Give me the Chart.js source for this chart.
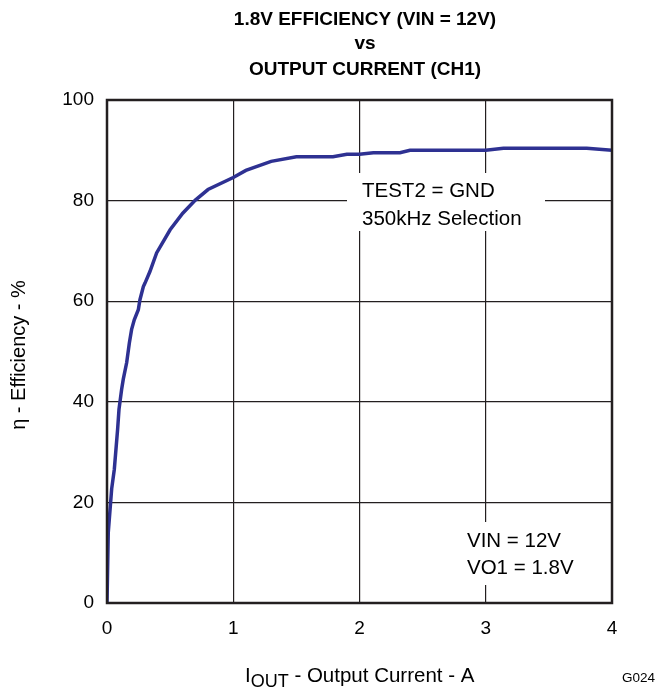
<!DOCTYPE html>
<html>
<head>
<meta charset="utf-8">
<script src="https://cdn.jsdelivr.net/npm/chart.js@4"></script>
<style>
  html, body { margin: 0; padding: 0; background: #fff; }
  #wrap { width: 658px; height: 693px; }
</style>
</head>
<body>
<div id="wrap"><canvas id="myChart" width="658" height="693"></canvas></div>
<script>
// output current (A) and efficiency (%)
var current = [0, 0.01, 0.037, 0.058, 0.084, 0.095, 0.116, 0.129, 0.156, 0.177, 0.195, 0.216, 0.248, 0.261, 0.288, 0.301, 0.34, 0.393, 0.5, 0.6, 0.7, 0.8, 1.0, 1.1, 1.3, 1.5, 1.79, 1.9, 2.0, 2.11, 2.32, 2.4, 3.0, 3.14, 3.8, 4.0];
var efficiency = [0, 14, 22.7, 26.6, 34.5, 38.5, 42.5, 44.5, 47.8, 51.7, 54.4, 56.3, 58.3, 60.3, 62.9, 63.6, 65.9, 69.6, 74.2, 77.5, 80.1, 82.2, 84.6, 86, 87.8, 88.7, 88.7, 89.2, 89.2, 89.5, 89.5, 90, 90, 90.4, 90.4, 90];
var xTicks = [0, 1, 2, 3, 4];
var yTicks = [0, 20, 40, 60, 80, 100];
var titleLines = ["1.8V EFFICIENCY (VIN = 12V)", "vs", "OUTPUT CURRENT (CH1)"];
var noteTop = ["TEST2 = GND", "350kHz Selection"];
var noteBottom = ["VIN = 12V", "VO1 = 1.8V"];

var pts = [];
for (var i = 0; i < current.length; i++) pts.push({ x: current[i], y: efficiency[i] });

var FONT = "'Liberation Sans', Arial, sans-serif";

var textPlugin = {
  id: 'texts',
  afterDraw: function (chart) {
    var c = chart.ctx;
    var xs = chart.scales.x, ys = chart.scales.y;
    c.save();
    // title
    c.fillStyle = '#000';
    c.font = 'bold 19px ' + FONT;
    c.textAlign = 'center';
    c.textBaseline = 'alphabetic';
    c.fillText(titleLines[0], 365, 25);
    c.fillText(titleLines[1], 365, 49);
    c.fillText(titleLines[2], 365, 75);

    // white boxes behind notes
    c.fillStyle = '#fff';
    c.fillRect(347, 173, 198, 58);
    c.fillRect(456, 522, 134, 63);

    c.fillStyle = '#000';
    c.font = '20.5px ' + FONT;
    c.textAlign = 'left';
    c.fillText(noteTop[0], 362, 197);
    c.fillText(noteTop[1], 362, 225);
    c.fillText(noteBottom[0], 467, 547);
    c.fillText(noteBottom[1], 467, 574);

    // x axis title with subscript
    var x0 = 245, yb = 682;
    c.font = '20.5px ' + FONT;
    c.fillText('I', x0, yb);
    var w = c.measureText('I').width;
    c.font = '18px ' + FONT;
    c.fillText('OUT', x0 + w, yb + 5);
    w += c.measureText('OUT').width;
    c.font = '20.5px ' + FONT;
    c.fillText(' - Output Current - A', x0 + w, yb);

    c.font = '13.5px ' + FONT;
    c.fillText('G024', 622, 682);

    // y axis title
    c.translate(25, 355);
    c.rotate(-Math.PI / 2);
    c.textAlign = 'center';
    c.font = '20px ' + FONT;
    c.fillText('\u03B7 - Efficiency - %', 0, 0);
    c.restore();

    // plot border
    c.save();
    c.strokeStyle = '#231f20';
    c.lineWidth = 2.5;
    c.strokeRect(chart.chartArea.left, chart.chartArea.top, chart.chartArea.right - chart.chartArea.left, chart.chartArea.bottom - chart.chartArea.top);
    c.restore();
  }
};

var ctx = document.getElementById('myChart').getContext('2d');
var myChart = new Chart(ctx, {
  type: 'line',
  data: {
    datasets: [{
      data: pts,
      borderColor: '#2e3192',
      borderWidth: 3.5,
      pointRadius: 0,
      tension: 0,
      fill: false
    }]
  },
  options: {
    responsive: false,
    animation: false,
    layout: { padding: { top: 100, right: 46, left: 0, bottom: 0 } },
    plugins: { legend: { display: false }, tooltip: { enabled: false } },
    scales: {
      x: {
        type: 'linear',
        min: 0, max: 4,
        afterBuildTicks: function (axis) { axis.ticks = xTicks.map(function (v) { return { value: v }; }); },
        afterFit: function (axis) { axis.height = 90; },
        grid: { color: '#231f20', lineWidth: 1.2, drawTicks: false },
        border: { display: false },
        ticks: { color: '#000', font: { family: FONT, size: 19 }, padding: 14, maxRotation: 0 }
      },
      y: {
        min: 0, max: 100,
        afterBuildTicks: function (axis) { axis.ticks = yTicks.map(function (v) { return { value: v }; }); },
        afterFit: function (axis) { axis.width = 107; },
        grid: { color: '#231f20', lineWidth: 1.2, drawTicks: false },
        border: { display: false },
        ticks: { color: '#000', font: { family: FONT, size: 19 }, padding: 13 }
      }
    }
  },
  plugins: [textPlugin]
});
</script>
</body>
</html>
